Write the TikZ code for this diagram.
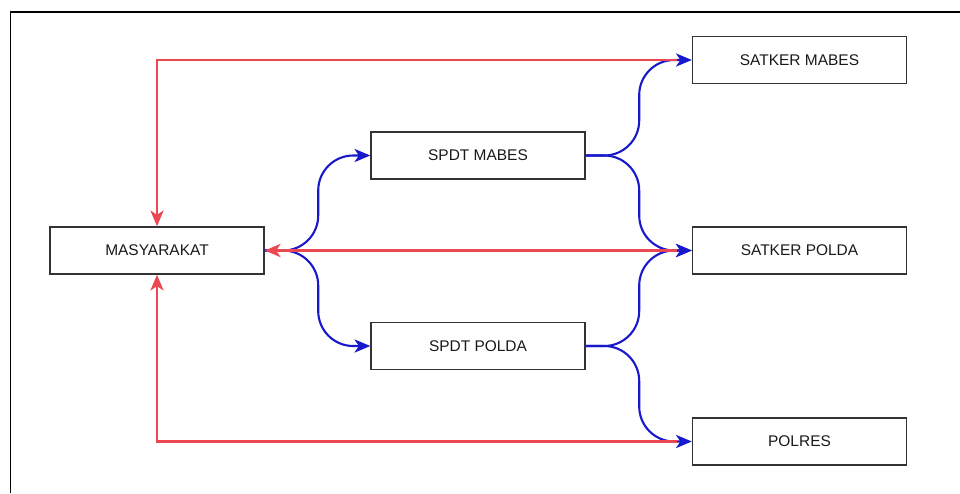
\documentclass[tikz,border=0pt]{standalone}
\usepackage{fontspec}
\setmainfont{Liberation Sans}
\usetikzlibrary{arrows.meta}
\definecolor{flowred}{RGB}{236,72,84}
\definecolor{flowblue}{RGB}{24,24,204}
\begin{document}
\begin{tikzpicture}[
  box/.style={draw=black!80,line width=0.8pt,minimum width=4.28cm,minimum height=0.94cm,inner sep=0pt,font=\fontsize{8.8}{10}\selectfont,text=black!90},
  redflow/.style={flowred,line width=1.3pt,shorten <=0.3cm,-{Stealth[length=9pt,width=7.5pt,inset=2.5pt]}},
  blueflow/.style={flowblue,line width=1.2pt,rounded corners=0.7cm,-{Stealth[length=9pt,width=7.5pt,inset=2.5pt]}}]
\useasboundingbox (0,0) rectangle (19.2,-9.86);
\draw[line width=0.9pt] (0.21,-9.86) -- (0.21,-0.24) -- (19.2,-0.24);
% boxes
\node[box] (masy) at (3.14,-5.01) {MASYARAKAT};
\node[box] (spdtm) at (9.56,-3.11) {SPDT MABES};
\node[box] (spdtp) at (9.56,-6.92) {SPDT POLDA};
\node[box] (satm) at (15.99,-1.20) {SATKER MABES};
\node[box] (satp) at (15.99,-5.01) {SATKER POLDA};
\node[box] (polres) at (15.99,-8.83) {POLRES};
% blue flows
\draw[blueflow] (masy.east) -- ++(1.07,0) |- (spdtm.west);
\draw[blueflow] (masy.east) -- ++(1.07,0) |- (spdtp.west);
\draw[blueflow] (spdtm.east) -- ++(1.07,0) |- (satm.west);
\draw[blueflow] (spdtm.east) -- ++(1.07,0) |- (satp.west);
\draw[blueflow] (spdtp.east) -- ++(1.07,0) |- (satp.west);
\draw[blueflow] (spdtp.east) -- ++(1.07,0) |- (polres.west);
% red flows back
\draw[redflow] (satm.west) -| (masy.north);
\draw[redflow] (satp.west) -- (masy.east);
\draw[redflow] (polres.west) -| (masy.south);
\end{tikzpicture}
\end{document}
